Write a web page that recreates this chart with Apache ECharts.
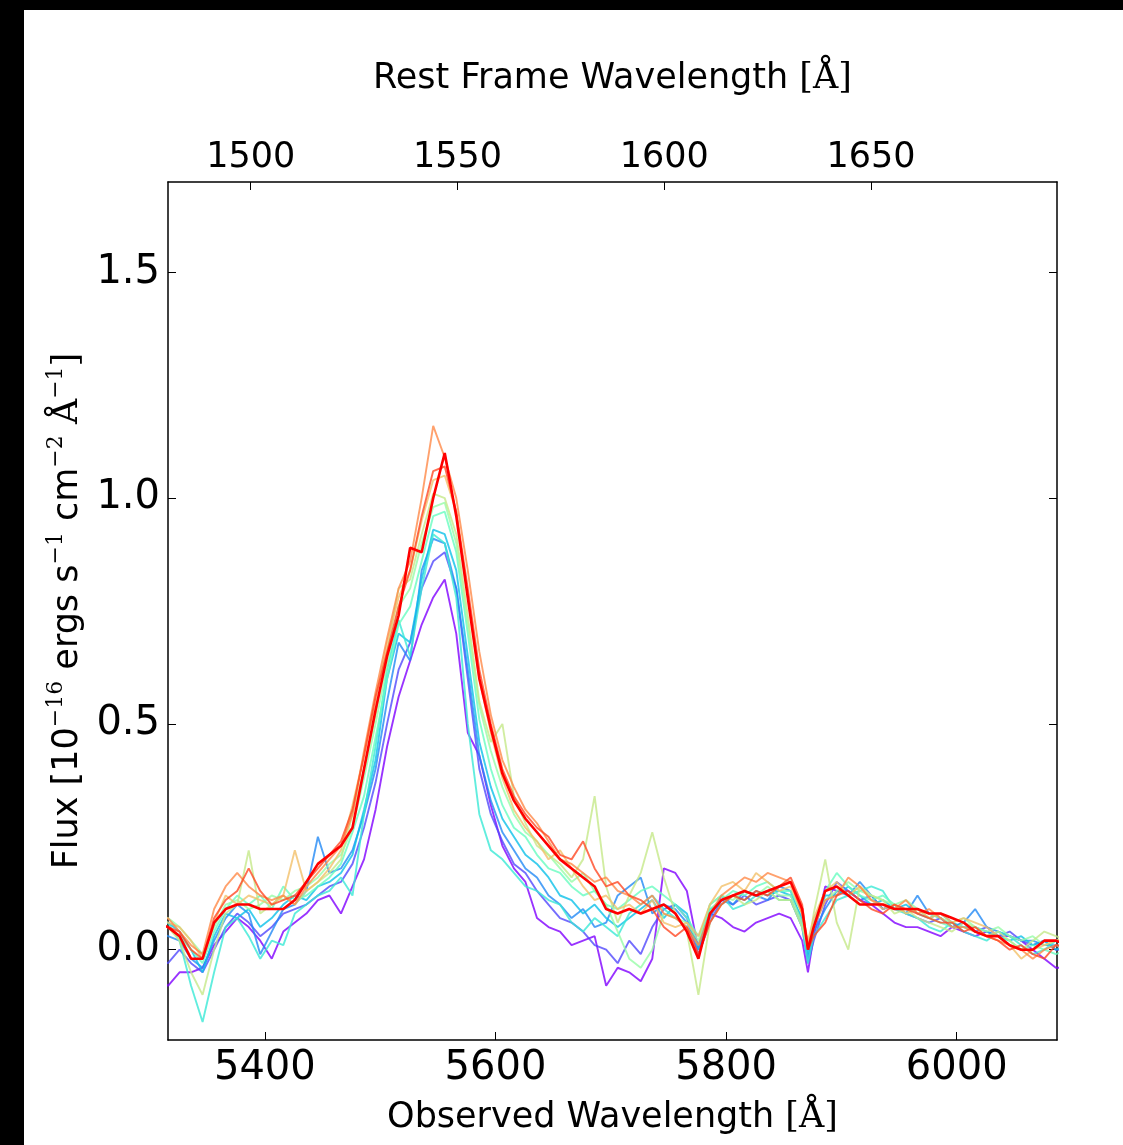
<!DOCTYPE html>
<html>
<head>
<meta charset="utf-8">
<script src="https://cdn.jsdelivr.net/npm/echarts@6/dist/echarts.min.js"></script>
<style>
html, body { margin: 0; padding: 0; background: #fff; }
#chart { width: 1123px; height: 1145px; }
</style>
</head>
<body>
<div id="chart"></div>
<script>
// observed wavelength grid (Angstrom), one extra point at the 5871 dip
const wavelength = [
    5306, 5316, 5326, 5336, 5346, 5356, 5366, 5376, 5386, 5396,
    5406, 5416, 5426, 5436, 5446, 5456, 5466, 5476, 5486, 5496,
    5506, 5516, 5526, 5536, 5546, 5556, 5566, 5576, 5586, 5596,
    5606, 5616, 5626, 5636, 5646, 5656, 5666, 5676, 5686, 5696,
    5706, 5716, 5726, 5736, 5746, 5756, 5766, 5776, 5786, 5796,
    5806, 5816, 5826, 5836, 5846, 5856, 5866, 5871, 5876, 5886, 5896,
    5906, 5916, 5926, 5936, 5946, 5956, 5966, 5976, 5986, 5996,
    6006, 6016, 6026, 6036, 6046, 6056, 6066, 6076, 6086, 6096
];

// flux of each epoch, 1e-16 erg/s/cm2/A
const fluxPurple = [
    -0.06, -0.08, -0.05, -0.05, -0.04, 0.01, 0.04, 0.07, 0.05, 0.02,
    -0.02, 0.04, 0.06, 0.08, 0.11, 0.12, 0.08, 0.14, 0.20, 0.31,
    0.45, 0.56, 0.64, 0.72, 0.78, 0.82, 0.70, 0.48, 0.43, 0.32,
    0.23, 0.18, 0.15, 0.07, 0.05, 0.04, 0.01, 0.02, 0.03, -0.08,
    -0.04, -0.05, -0.07, -0.02, 0.18, 0.17, 0.13, 0.00, 0.08, 0.07,
    0.05, 0.04, 0.06, 0.07, 0.08, 0.07, 0.02, -0.05, 0.03, 0.14, 0.13,
    0.13, 0.11, 0.10, 0.08, 0.06, 0.05, 0.05, 0.04, 0.03, 0.05,
    0.04, 0.03, 0.04, 0.03, 0.03, 0.02, 0.00, -0.02, -0.04, -0.04
];
const fluxIndigo = [
    -0.02, -0.03, 0.00, -0.03, -0.05, 0.00, 0.05, 0.08, 0.06, 0.03,
    0.05, 0.08, 0.09, 0.10, 0.12, 0.14, 0.15, 0.19, 0.27, 0.37,
    0.50, 0.62, 0.68, 0.80, 0.86, 0.88, 0.80, 0.60, 0.40, 0.30,
    0.24, 0.19, 0.17, 0.13, 0.10, 0.07, 0.06, 0.04, 0.01, 0.00,
    -0.03, 0.02, -0.01, 0.05, 0.09, 0.10, 0.07, -0.01, 0.06, 0.11,
    0.10, 0.12, 0.10, 0.11, 0.12, 0.11, 0.05, -0.03, 0.02, 0.10, 0.15,
    0.13, 0.11, 0.12, 0.09, 0.10, 0.08, 0.07, 0.06, 0.07, 0.05,
    0.06, 0.04, 0.05, 0.03, 0.04, 0.02, 0.01, 0.02, 0.00, 0.00
];
const fluxBlue = [
    0.04, 0.03, 0.02, -0.02, -0.04, 0.02, 0.07, 0.10, 0.08, -0.01,
    0.04, 0.09, 0.10, 0.13, 0.25, 0.17, 0.18, 0.22, 0.30, 0.40,
    0.55, 0.68, 0.64, 0.84, 0.91, 0.90, 0.80, 0.62, 0.43, 0.33,
    0.26, 0.22, 0.18, 0.16, 0.12, 0.10, 0.07, 0.09, 0.05, 0.06,
    0.12, 0.14, 0.16, 0.08, 0.10, 0.09, 0.06, 0.01, 0.07, 0.12,
    0.10, 0.13, 0.12, 0.11, 0.14, 0.13, 0.06, -0.02, 0.04, 0.09, 0.13,
    0.12, 0.15, 0.12, 0.09, 0.10, 0.08, 0.12, 0.08, 0.07, 0.05,
    0.06, 0.09, 0.05, 0.04, 0.03, 0.02, 0.02, 0.01, 0.01, 0.00
];
const fluxAzure = [
    0.05, 0.06, 0.04, 0.00, -0.05, 0.03, 0.08, 0.07, 0.09, 0.05,
    0.07, 0.10, 0.12, 0.11, 0.14, 0.15, 0.17, 0.21, 0.31, 0.42,
    0.60, 0.70, 0.68, 0.82, 0.93, 0.92, 0.84, 0.65, 0.46, 0.36,
    0.29, 0.25, 0.21, 0.19, 0.16, 0.12, 0.11, 0.08, 0.10, 0.07,
    0.05, 0.07, 0.09, 0.11, 0.07, 0.10, 0.08, 0.00, 0.09, 0.10,
    0.12, 0.11, 0.13, 0.12, 0.13, 0.12, 0.07, -0.01, 0.05, 0.12, 0.12,
    0.14, 0.12, 0.10, 0.11, 0.09, 0.10, 0.08, 0.07, 0.08, 0.06,
    0.05, 0.05, 0.04, 0.03, 0.02, 0.03, 0.01, 0.02, 0.00, 0.01
];
const fluxTurquoise = [
    0.07, 0.06, 0.02, -0.08, -0.16, -0.05, 0.05, 0.07, 0.03, -0.02,
    0.02, 0.01, 0.08, 0.10, 0.12, 0.13, 0.16, 0.12, 0.30, 0.45,
    0.62, 0.73, 0.65, 0.80, 0.92, 0.90, 0.78, 0.50, 0.30, 0.22,
    0.20, 0.17, 0.14, 0.13, 0.11, 0.10, 0.06, 0.04, 0.07, 0.05,
    0.03, 0.08, 0.10, 0.12, 0.09, 0.07, 0.05, 0.01, 0.10, 0.12,
    0.09, 0.10, 0.12, 0.13, 0.11, 0.11, 0.05, -0.03, 0.03, 0.07, 0.11,
    0.12, 0.13, 0.14, 0.13, 0.09, 0.08, 0.07, 0.05, 0.04, 0.06,
    0.04, 0.03, 0.02, 0.04, 0.03, 0.01, -0.01, 0.00, 0.02, 0.02
];
const fluxAqua = [
    0.06, 0.05, 0.03, 0.00, -0.03, 0.04, 0.09, 0.12, 0.10, 0.12,
    0.09, 0.14, 0.11, 0.12, 0.14, 0.16, 0.19, 0.26, 0.34, 0.47,
    0.60, 0.72, 0.76, 0.86, 0.96, 0.97, 0.88, 0.70, 0.51, 0.40,
    0.32, 0.27, 0.25, 0.21, 0.18, 0.17, 0.14, 0.12, 0.13, 0.10,
    0.09, 0.11, 0.13, 0.14, 0.12, 0.10, 0.07, 0.03, 0.09, 0.11,
    0.13, 0.12, 0.14, 0.15, 0.13, 0.13, 0.08, 0.01, 0.06, 0.13, 0.17,
    0.14, 0.12, 0.11, 0.12, 0.10, 0.08, 0.09, 0.07, 0.06, 0.05,
    0.05, 0.04, 0.03, 0.03, 0.02, 0.00, 0.01, 0.00, -0.01, 0.00
];
const fluxLightGreen = [
    0.08, 0.07, 0.05, 0.02, -0.01, 0.05, 0.10, 0.11, 0.09, 0.10,
    0.12, 0.11, 0.13, 0.14, 0.16, 0.19, 0.21, 0.27, 0.38, 0.50,
    0.63, 0.76, 0.80, 0.90, 0.98, 0.99, 0.90, 0.72, 0.54, 0.44,
    0.36, 0.30, 0.26, 0.24, 0.21, 0.18, 0.15, 0.17, 0.13, 0.10,
    0.04, -0.02, -0.04, 0.00, 0.08, 0.07, 0.06, 0.02, 0.10, 0.12,
    0.11, 0.13, 0.12, 0.14, 0.12, 0.12, 0.06, 0.00, 0.05, 0.11, 0.13,
    0.15, 0.13, 0.12, 0.11, 0.10, 0.11, 0.09, 0.08, 0.07, 0.06,
    0.07, 0.05, 0.04, 0.05, 0.03, 0.02, 0.03, 0.01, 0.02, 0.02
];
const fluxYellowGreen = [
    0.04, 0.05, 0.02, -0.05, -0.10, 0.00, 0.08, 0.10, 0.22, 0.08,
    0.10, 0.12, 0.10, 0.13, 0.15, 0.17, 0.20, 0.30, 0.40, 0.52,
    0.66, 0.80, 0.82, 0.92, 1.01, 1.00, 0.92, 0.74, 0.55, 0.46,
    0.50, 0.34, 0.28, 0.23, 0.21, 0.19, 0.16, 0.20, 0.34, 0.14,
    0.06, 0.12, 0.17, 0.26, 0.16, 0.08, 0.04, -0.10, 0.06, 0.10,
    0.12, 0.10, 0.11, 0.13, 0.11, 0.11, 0.05, 0.00, 0.08, 0.20, 0.06,
    0.00, 0.14, 0.12, 0.11, 0.08, 0.09, 0.07, 0.06, 0.05, 0.04,
    0.06, 0.05, 0.03, 0.04, 0.02, 0.00, 0.02, 0.04, 0.03, 0.02
];
const fluxLightOrange = [
    0.07, 0.06, 0.05, 0.02, -0.02, 0.06, 0.12, 0.10, 0.12, 0.11,
    0.10, 0.12, 0.22, 0.13, 0.15, 0.18, 0.22, 0.32, 0.43, 0.55,
    0.68, 0.78, 0.84, 0.95, 1.04, 1.05, 0.97, 0.78, 0.60, 0.48,
    0.38, 0.31, 0.27, 0.24, 0.20, 0.22, 0.18, 0.14, 0.11, 0.12,
    0.09, 0.10, 0.08, 0.11, 0.06, 0.05, 0.06, 0.03, 0.10, 0.14,
    0.15, 0.13, 0.17, 0.15, 0.13, 0.14, 0.08, 0.02, 0.07, 0.13, 0.15,
    0.12, 0.14, 0.11, 0.09, 0.10, 0.08, 0.09, 0.07, 0.08, 0.06,
    0.07, 0.06, 0.05, 0.03, 0.01, -0.02, 0.00, 0.01, 0.02, 0.03
];
const fluxOrange = [
    0.06, 0.07, 0.04, 0.01, -0.01, 0.09, 0.14, 0.17, 0.14, 0.12,
    0.11, 0.12, 0.10, 0.14, 0.17, 0.20, 0.23, 0.30, 0.44, 0.57,
    0.69, 0.80, 0.86, 1.00, 1.16, 1.09, 1.00, 0.84, 0.66, 0.52,
    0.42, 0.36, 0.31, 0.28, 0.24, 0.20, 0.19, 0.17, 0.15, 0.16,
    0.13, 0.12, 0.10, 0.12, 0.08, 0.07, 0.05, 0.01, 0.08, 0.12,
    0.14, 0.16, 0.15, 0.17, 0.16, 0.15, 0.08, 0.01, 0.05, 0.11, 0.12,
    0.16, 0.14, 0.11, 0.10, 0.09, 0.11, 0.08, 0.09, 0.07, 0.05,
    0.05, 0.04, 0.03, 0.02, 0.01, 0.00, -0.02, 0.00, 0.01, 0.00
];
const fluxRedOrange = [
    0.05, 0.05, 0.04, 0.00, -0.02, 0.07, 0.11, 0.13, 0.18, 0.13,
    0.10, 0.11, 0.12, 0.15, 0.18, 0.21, 0.24, 0.31, 0.43, 0.56,
    0.66, 0.76, 0.84, 0.96, 1.06, 1.07, 0.97, 0.80, 0.62, 0.50,
    0.40, 0.34, 0.30, 0.27, 0.25, 0.21, 0.20, 0.24, 0.18, 0.14,
    0.15, 0.12, 0.11, 0.09, 0.05, 0.03, 0.05, -0.01, 0.06, 0.10,
    0.12, 0.11, 0.13, 0.12, 0.14, 0.16, 0.10, 0.00, 0.03, 0.06, 0.12,
    0.13, 0.11, 0.09, 0.08, 0.10, 0.09, 0.08, 0.07, 0.06, 0.06,
    0.04, 0.05, 0.03, 0.02, 0.00, 0.01, -0.01, -0.02, 0.01, 0.01
];
const fluxRed = [
    0.06, 0.05, 0.03, -0.02, -0.02, 0.06, 0.09, 0.10, 0.10, 0.09,
    0.09, 0.09, 0.11, 0.15, 0.19, 0.21, 0.23, 0.27, 0.40, 0.53,
    0.65, 0.74, 0.89, 0.88, 1.00, 1.10, 0.96, 0.78, 0.60, 0.49,
    0.39, 0.33, 0.29, 0.26, 0.23, 0.20, 0.18, 0.16, 0.14, 0.09,
    0.08, 0.09, 0.08, 0.09, 0.10, 0.08, 0.04, -0.02, 0.08, 0.11,
    0.12, 0.13, 0.12, 0.13, 0.14, 0.15, 0.09, 0.00, 0.05, 0.13, 0.14,
    0.12, 0.10, 0.10, 0.10, 0.09, 0.09, 0.09, 0.08, 0.08, 0.07,
    0.06, 0.04, 0.03, 0.03, 0.01, 0.00, 0.00, 0.02, 0.02, 0.01
];

const spectra = [fluxPurple, fluxIndigo, fluxBlue, fluxAzure, fluxTurquoise, fluxAqua,
    fluxLightGreen, fluxYellowGreen, fluxLightOrange, fluxOrange, fluxRedOrange, fluxRed];
const lineColors = ['#8000ff', '#5148fc', '#238af5', '#0cc1e8', '#3ae8d6', '#68fcc1',
    '#97fca7', '#c5e88a', '#f3c16a', '#ff8a48', '#ff4824', '#ff0000'];

// axis ticks
const observedTicks = [5400, 5600, 5800, 6000];
const restTicks = [1500, 1550, 1600, 1650];
const fluxTicks = [0.0, 0.5, 1.0, 1.5];

const chart = echarts.init(document.getElementById('chart'));

const sans = 'DejaVu Sans';
const serif = 'DejaVu Serif';

const frameAxis = {
    axisLine: { show: true, onZero: false, lineStyle: { color: '#000', width: 1.5 } },
    axisTick: { show: true, inside: true, length: 8, lineStyle: { color: '#000', width: 1 } },
    splitLine: { show: false }
};

const series = spectra.map((flux, i) => {
    const isLast = i === spectra.length - 1;
    return {
        type: 'line',
        xAxisIndex: 0,
        yAxisIndex: 0,
        data: wavelength.map((w, j) => [w, flux[j]]),
        showSymbol: false,
        smooth: false,
        silent: true,
        lineStyle: {
            color: lineColors[i],
            width: isLast ? 2.6 : 1.9,
            opacity: isLast ? 1 : 0.8
        },
        z: 2 + i
    };
});

const option = {
    animation: false,
    backgroundColor: '#fff',
    graphic: [
        { type: 'rect', shape: { x: 0, y: 0, width: 1123, height: 10 }, style: { fill: '#000' } },
        { type: 'rect', shape: { x: 0, y: 0, width: 24, height: 1145 }, style: { fill: '#000' } }
    ],
    grid: { left: 168, top: 182, width: 889, height: 858 },
    xAxis: [
        Object.assign({}, frameAxis, {
            type: 'value',
            position: 'bottom',
            min: 5316,
            max: 6087,
            axisTick: Object.assign({}, frameAxis.axisTick, { customValues: observedTicks }),
            axisLabel: {
                customValues: observedTicks,
                formatter: v => String(v),
                fontFamily: sans, fontSize: 40, color: '#000', margin: 9
            },
            name: '{a|Observed Wavelength }{s|[Å]}',
            nameLocation: 'middle',
            nameGap: 60,
            nameTextStyle: {
                rich: {
                    a: { fontFamily: sans, fontSize: 35, color: '#000' },
                    s: { fontFamily: serif, fontSize: 35, color: '#000' }
                }
            }
        }),
        Object.assign({}, frameAxis, {
            type: 'value',
            position: 'top',
            min: 1480,
            max: 1695,
            axisTick: Object.assign({}, frameAxis.axisTick, { customValues: restTicks }),
            axisLabel: {
                customValues: restTicks,
                formatter: v => String(v),
                fontFamily: sans, fontSize: 35, color: '#000', margin: 7
            },
            name: '{a|Rest Frame Wavelength }{s|[Å]}',
            nameLocation: 'middle',
            nameGap: 86,
            nameTextStyle: {
                rich: {
                    a: { fontFamily: sans, fontSize: 35, color: '#000' },
                    s: { fontFamily: serif, fontSize: 35, color: '#000' }
                }
            }
        })
    ],
    yAxis: [
        Object.assign({}, frameAxis, {
            type: 'value',
            position: 'left',
            min: -0.2,
            max: 1.7,
            axisTick: Object.assign({}, frameAxis.axisTick, { customValues: fluxTicks }),
            axisLabel: {
                customValues: fluxTicks,
                formatter: v => v.toFixed(1),
                fontFamily: sans, fontSize: 40, color: '#000', margin: 8
            },
            name: '{a|Flux [10}{u|−16}{a| ergs s}{u|−1}{a| cm}{u|−2}{s| Å}{u|−1}{s|]}',
            nameLocation: 'middle',
            nameRotate: 90,
            nameGap: 70,
            nameTextStyle: {
                rich: {
                    a: { fontFamily: sans, fontSize: 35, color: '#000', lineHeight: 46 },
                    s: { fontFamily: serif, fontSize: 35, color: '#000', lineHeight: 46 },
                    u: { fontFamily: serif, fontSize: 22, color: '#000', lineHeight: 18, verticalAlign: 'top' }
                }
            }
        }),
        Object.assign({}, frameAxis, {
            type: 'value',
            position: 'right',
            min: -0.2,
            max: 1.7,
            axisTick: Object.assign({}, frameAxis.axisTick, { customValues: fluxTicks }),
            axisLabel: { show: false }
        })
    ],
    series: series
};

chart.setOption(option);
</script>
</body>
</html>
